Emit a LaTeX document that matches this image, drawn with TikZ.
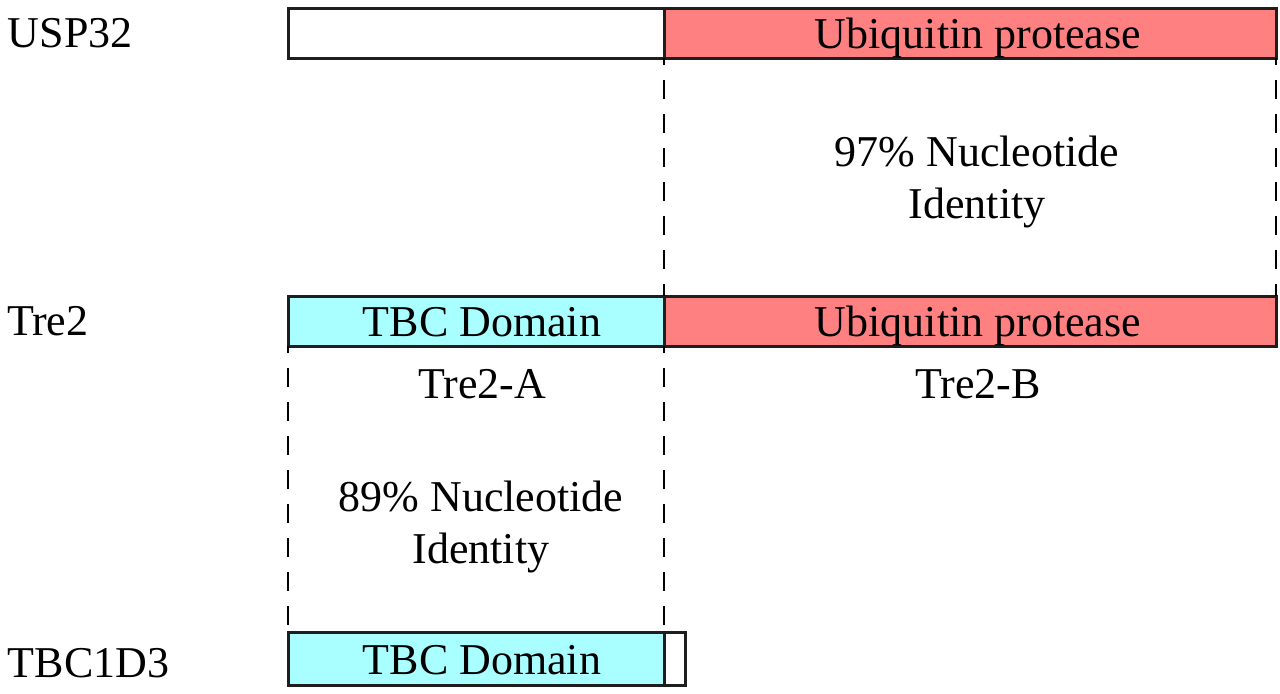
\documentclass[tikz,border=0pt]{standalone}
\usepackage{fontspec}
\setmainfont{Liberation Serif}
\definecolor{protred}{HTML}{FF8080}
\definecolor{tbccyan}{HTML}{A9FFFF}
\definecolor{edge}{HTML}{1E1E1E}
\begin{document}
\begin{tikzpicture}[x=0.5pt,y=-0.5pt,
  every node/.style={font=\fontsize{22}{26}\selectfont, inner sep=0pt, outer sep=0pt},
  bar/.style={draw=edge, line width=1.5pt, anchor=north west, minimum height=25pt},
  lbl/.style={anchor=base west},
  txt/.style={anchor=base, align=center},
  dashline/.style={draw=black, line width=1.3pt, dash pattern=on 9.5pt off 7.5pt}]
\useasboundingbox (0,0) rectangle (1280,693);

% labels
\node[lbl] (lusp) at (8,47) {USP32};
\node[lbl] (ltre) at (7,335) {Tre2};
\node[lbl] (ltbc) at (8,677) {TBC1D3};

% bars
\node[bar, fill=white, minimum width=188pt] (uspA) at (288,8) {};
\node[bar, fill=protred, minimum width=306pt] (uspB) at (664,8) {};
\node[bar, fill=tbccyan, minimum width=188pt] (treA) at (288,296) {};
\node[bar, fill=protred, minimum width=306pt] (treB) at (664,296) {};
\node[bar, fill=tbccyan, minimum width=188pt, minimum height=26.5pt] (tbcA) at (288,632) {};
\node[bar, fill=white, minimum width=10.5pt, minimum height=26.5pt] (tbcB) at (664,632) {};

% dashed connectors
\draw[dashline, dash phase=6pt] (uspB.south west) -- (treB.north west);
\draw[dashline, dash phase=6pt] (uspB.south east) -- (treB.north east);
\draw[dashline, dash phase=6pt] (treA.south west) -- (tbcA.north west);
\draw[dashline, dash phase=6pt] (treA.south east) -- (tbcA.north east);

% bar texts
\node[txt] (uspBt) at (978,48) {Ubiquitin protease};
\node[txt] (treAt) at (482,336) {TBC Domain};
\node[txt] (treBt) at (978,336) {Ubiquitin protease};
\node[txt] (tbcAt) at (482,674) {TBC Domain};

% other texts
\node[txt] (id97) at (977,218) {97\% Nucleotide\\Identity};
\node[txt] (treAl) at (482,398) {Tre2-A};
\node[txt] (treBl) at (978,398) {Tre2-B};
\node[txt] (id89) at (481,563) {89\% Nucleotide\\Identity};
\end{tikzpicture}
\end{document}
